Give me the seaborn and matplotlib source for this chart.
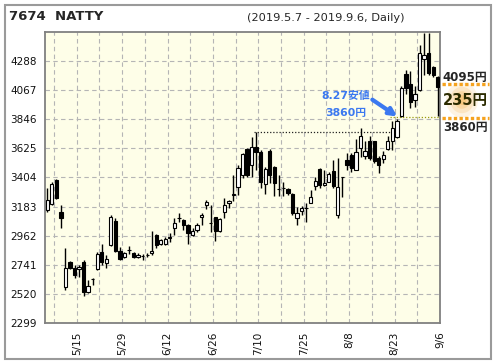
import matplotlib
matplotlib.use('Agg')
import matplotlib.pyplot as plt
from matplotlib.patches import Rectangle, Ellipse
from matplotlib.lines import Line2D
import seaborn as sns
import numpy as np
import pandas as pd

# daily OHLC, 2019.5.7 - 2019.9.6 (trading days)
opens = [3157, 3203, 3385, 3142, 2572, 2763, 2717, 2710, 2763, 2535,
         2633, 2709, 2838, 2755, 2892, 3074, 2846, 2800, 2853, 2830,
         2800, 2808, 2815, 2830, 2967, 2899, 2899, 2947, 3020, 3096,
         3081, 3043, 2967, 3005, 3104, 3195, 3058, 3104, 2997, 3142,
         3210, 3271, 3332, 3423, 3620, 3499, 3636, 3598, 3355, 3605,
         3484, 3316, 3324, 3316, 3279, 3096, 3149, 3172, 3210, 3339,
         3469, 3347, 3372, 3454, 3119, 3405, 3537, 3575, 3461, 3628,
         3565, 3681, 3681, 3552, 3545, 3620, 3681, 3712, 3870, 4190,
         4115, 3990, 4071, 4303, 4350, 4240, 4170]
highs = [3324, 3370, 3395, 3195, 2869, 2770, 2740, 2740, 2775, 2626,
         2640, 2840, 2899, 2815, 3120, 3096, 2876, 2840, 2884, 2840,
         2830, 2823, 2830, 3000, 2975, 2935, 2950, 2985, 3096, 3134,
         3090, 3050, 3020, 3058, 3134, 3233, 3195, 3104, 3096, 3248,
         3233, 3423, 3499, 3590, 3625, 3712, 3753, 3610, 3484, 3620,
         3490, 3423, 3370, 3324, 3286, 3180, 3187, 3210, 3309, 3408,
         3476, 3461, 3448, 3537, 3550, 3410, 3590, 3590, 3694, 3778,
         3680, 3717, 3681, 3567, 3603, 3717, 3831, 3850, 4097, 4220,
         4210, 4099, 4413, 4500, 4500, 4250, 4175]
lows = [3142, 3195, 3240, 3020, 2550, 2710, 2641, 2645, 2505, 2530,
        2590, 2700, 2740, 2717, 2885, 2838, 2777, 2790, 2823, 2790,
        2795, 2777, 2800, 2815, 2870, 2890, 2890, 2915, 2967, 3066,
        3005, 2899, 2960, 2990, 3043, 3165, 2990, 2924, 2990, 3096,
        3172, 3225, 3271, 3400, 3410, 3408, 3461, 3324, 3279, 3364,
        3263, 3263, 3263, 3271, 3119, 3043, 3119, 3066, 3208, 3309,
        3324, 3339, 3370, 3324, 3094, 3258, 3461, 3446, 3461, 3562,
        3545, 3539, 3514, 3439, 3514, 3615, 3615, 3704, 3860, 4040,
        3935, 3940, 4058, 4185, 4185, 4170, 3870]
closes = [3233, 3355, 3248, 3096, 2717, 2717, 2664, 2725, 2535, 2580,
          2636, 2823, 2763, 2785, 3104, 2846, 2785, 2830, 2855, 2800,
          2812, 2810, 2818, 2845, 2891, 2929, 2937, 2950, 3058, 3099,
          3043, 2982, 2997, 3043, 3119, 3215, 3062, 2997, 3089, 3195,
          3225, 3275, 3476, 3582, 3423, 3636, 3598, 3370, 3469, 3423,
          3362, 3320, 3327, 3286, 3134, 3134, 3172, 3175, 3255, 3377,
          3347, 3362, 3431, 3339, 3332, 3408, 3499, 3476, 3598, 3719,
          3605, 3552, 3529, 3499, 3575, 3681, 3780, 3833, 4082, 4084,
          3975, 4040, 4349, 4334, 4200, 4185, 4095]

date_labels = ['5/15', '5/29', '6/12', '6/26', '7/10', '7/25', '8/8', '8/23', '9/6']
label_days = [6, 16, 26, 36, 46, 56, 66, 76, 86]
y_ticks = [2299, 2520, 2741, 2962, 3183, 3404, 3625, 3846, 4067, 4288]

prev_high = 3753   # 7/10 high
low_827 = 3860
last_close = 4095

sns.set_style('white')
plt.rcParams['font.family'] = ['DejaVu Sans', 'Noto Sans CJK JP']

df = pd.DataFrame({'day': np.arange(len(opens)), 'open': opens, 'high': highs,
                   'low': lows, 'close': closes})
df['up'] = df['close'] >= df['open']
df['bottom'] = df[['open', 'close']].min(axis=1)
df['height'] = (df['close'] - df['open']).abs()

fig = plt.figure(figsize=(4.96, 3.64), dpi=100)
ax = fig.add_axes([45 / 496, 1 - 323 / 364, 395 / 496, 291 / 364])
ax.set_facecolor('#fefee8')

# candles
ax.vlines(df['day'], df['low'], df['high'], color='black', lw=1, zorder=3)
ax.bar(df['day'], df['height'], bottom=df['bottom'], width=0.72,
       color=np.where(df['up'], 'white', 'black'), edgecolor='black',
       linewidth=0.8, zorder=4)

# reference lines
ax.hlines(prev_high, 45.5, 76.5, colors='#222222', linestyles=(0, (1, 1.5)), lw=0.9, zorder=2)
ax.hlines(low_827, 75.5, 86.5, colors='#9a9a10', linestyles=(0, (1, 1.5)), lw=0.9, zorder=2)

# axes
ax.set_xlim(-0.5, 86.5)
ax.set_ylim(2299, 4509)
ax.set_yticks(y_ticks)
ax.set_yticklabels([str(v) for v in y_ticks])
ax.set_xticks([d + 0.5 for d in label_days])
ax.set_xticklabels(date_labels, rotation=90)
ax.set_xticks([d - 4.5 for d in label_days], minor=True)
ax.tick_params(axis='both', which='both', direction='out', length=4, width=1,
               color='#777777', labelsize=7.5, labelcolor='#111111', pad=2)
ax.grid(True, which='both', color='#b5b5b5', linestyle=(0, (4, 3)), lw=0.8)
ax.set_axisbelow(True)
for s in ax.spines.values():
    s.set_color('#808080')
    s.set_linewidth(1.3)

# blue note
blue = '#3b78f0'
ax.text(65.7, 4023, '8.27安値', color=blue, fontsize=7.8, fontweight='bold',
        ha='center', va='center', zorder=6)
ax.text(65.7, 3894, '3860円', color=blue, fontsize=7.8, fontweight='bold',
        ha='center', va='center', zorder=6)
ax.annotate('', xy=(77.1, 3867), xytext=(71.6, 3995),
            arrowprops=dict(arrowstyle='-|>', color=blue, lw=3, mutation_scale=11,
                            shrinkA=0, shrinkB=0), zorder=6)

# titles
fig.text(9 / 496, 1 - 17 / 364, '7674  NATTY', fontsize=9.5, fontweight='bold',
         ha='left', va='center')
fig.text(247 / 496, 1 - 18 / 364, '(2019.5.7 - 2019.9.6, Daily)', fontsize=8.2,
         ha='left', va='center')

# right side box
orange = '#f5a21e'
cx = 465 / 496
for w, a in [(32, 0.12), (24, 0.16), (16, 0.2), (9, 0.25)]:
    fig.add_artist(Ellipse((462 / 496, 1 - 100 / 364), w / 496, w * 1.1 / 364,
                           color=orange, alpha=a, lw=0))
for yy in [84, 118]:
    fig.add_artist(Line2D([442 / 496, 489 / 496], [1 - yy / 364, 1 - yy / 364],
                          color=orange, lw=2.4, linestyle=(0, (1.0, 0.7))))
fig.text(cx, 1 - 77 / 364, f'{last_close}円', fontsize=8.5, fontweight='bold',
         ha='center', va='center')
fig.text(cx, 1 - 101 / 364, f'{last_close - low_827}円', fontsize=10.5,
         fontweight='bold', color='#2b2b00', ha='center', va='center')
fig.text(cx, 1 - 127 / 364, f'{low_827}円', fontsize=8.5, fontweight='bold',
         ha='center', va='center')

# outer frame
fig.add_artist(Rectangle((5 / 496, 1 - 359 / 364), 486 / 496, 354 / 364,
                         fill=False, edgecolor='#9a9a9a', lw=1.5))

fig.savefig('out.png', dpi=100)
